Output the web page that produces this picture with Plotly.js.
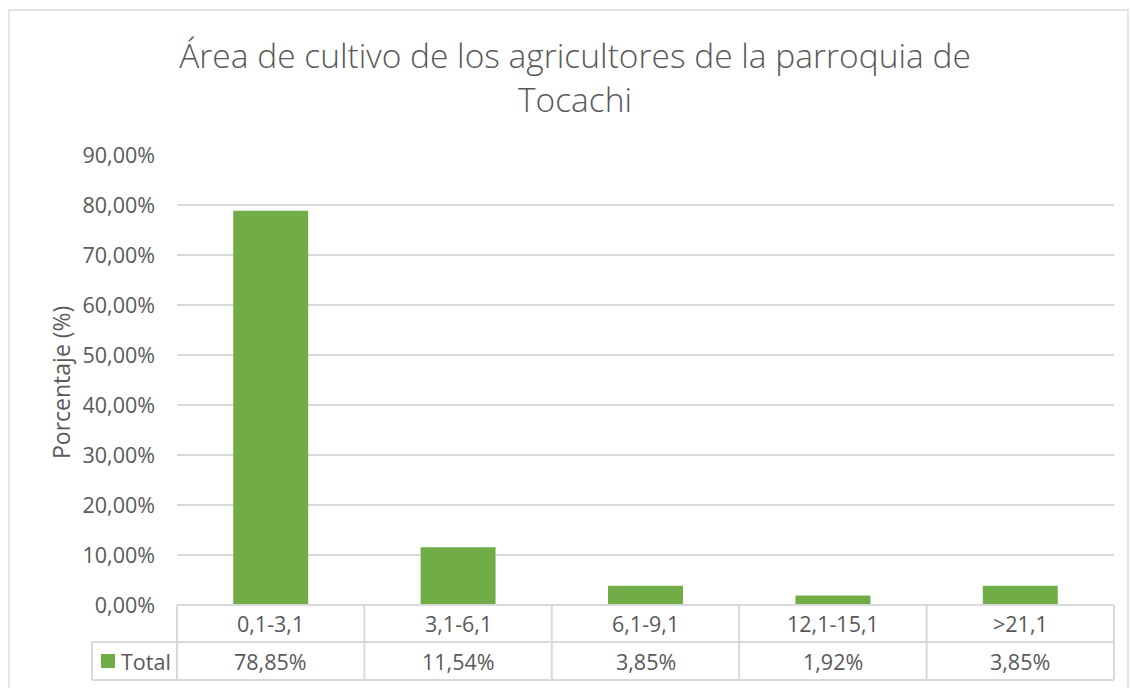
<!DOCTYPE html>
<html>
<head>
<meta charset="utf-8">
<script src="https://cdn.plot.ly/plotly-3.0.1.min.js"></script>
<style>html,body{margin:0;padding:0;background:#fff;}#chart{width:1130px;height:688px;}</style>
</head>
<body>
<div id="chart"></div>
<script>
const categories = ["0,1-3,1", "3,1-6,1", "6,1-9,1", "12,1-15,1", ">21,1"];
const totalValues = [0.7885, 0.1154, 0.0385, 0.0192, 0.0385];
const seriesName = "Total";
const titleText = "Área de cultivo de los agricultores de la parroquia de<br>Tocachi";
const yTitle = "Porcentaje (%)";

const W = 1130, H = 688;
const L = 177, R = 1114, T = 155, B = 605;
const pw = R - L, ph = B - T;
const px = v => (v - L) / pw;
const py = v => (B - v) / ph;
const gray = "#595959", line = "#d9d9d9";
const font = "Open Sans, sans-serif";

const row1Bot = py(642), row2Bot = py(680);
const n = categories.length;

const shapes = [];
// outer chart border
shapes.push({type:"rect", xref:"paper", yref:"paper", x0:px(9), x1:px(1128), y0:py(700), y1:py(10), line:{color:line, width:1.3}});
// table horizontal lines
shapes.push({type:"line", xref:"paper", yref:"paper", x0:0, x1:1, y0:0, y1:0, line:{color:line, width:2}});
shapes.push({type:"line", xref:"paper", yref:"paper", x0:px(92), x1:1, y0:row1Bot, y1:row1Bot, line:{color:line, width:2}});
shapes.push({type:"line", xref:"paper", yref:"paper", x0:px(92), x1:1, y0:row2Bot, y1:row2Bot, line:{color:line, width:2}});
// vertical lines
for (let i = 0; i <= n; i++) {
  const x = i / n;
  shapes.push({type:"line", xref:"paper", yref:"paper", x0:x, x1:x, y0:row2Bot, y1:0, line:{color:line, width:2}});
}
shapes.push({type:"line", xref:"paper", yref:"paper", x0:px(92), x1:px(92), y0:row2Bot, y1:row1Bot, line:{color:line, width:2}});
// legend key
shapes.push({type:"rect", xref:"paper", yref:"paper", x0:px(101), x1:px(115), y0:py(668), y1:py(654), fillcolor:"#70ad47", line:{width:0}});

const tfont = {family:font, size:21.5, color:gray};
const annotations = [];
categories.forEach((c, i) => {
  annotations.push({xref:"x", yref:"paper", x:c, y:row1Bot/2, text:c, showarrow:false, font:tfont, yanchor:"middle"});
  annotations.push({xref:"x", yref:"paper", x:c, y:(row1Bot + row2Bot)/2, text:(totalValues[i]*100).toFixed(2).replace(".", ",") + "%", showarrow:false, font:tfont, yanchor:"middle"});
});
annotations.push({xref:"paper", yref:"paper", x:px(119), y:(row1Bot + row2Bot)/2, text:seriesName, xanchor:"left", showarrow:false, font:tfont, yanchor:"middle"});
annotations.push({xref:"paper", yref:"paper", x:px(61), y:py(383), text:yTitle, textangle:-90, showarrow:false, font:{family:font, size:23, color:gray}, xanchor:"center", yanchor:"middle"});

const data = [{
  type:"bar", x:categories, y:totalValues, name:seriesName,
  marker:{color:"#70ad47"}, hoverinfo:"skip"
}];

const layout = {
  width:W, height:H,
  margin:{l:L, r:W-R, t:T, b:H-B, pad:0},
  paper_bgcolor:"#fff", plot_bgcolor:"#fff",
  separators:",.",
  showlegend:false,
  bargap:0.6,
  title:{text:titleText, x:px(575), xref:"paper", xanchor:"center", y:1-68/H, yref:"container", yanchor:"middle", font:{family:font, size:33.5, color:gray, weight:300}},
  xaxis:{type:"category", showticklabels:false, showgrid:false, zeroline:false, showline:false, ticks:"", range:[-0.5, n-0.5]},
  yaxis:{range:[0, 0.9], dtick:0.1, tickformat:".2%", showgrid:true, gridcolor:line, gridwidth:1.5, zeroline:false, showline:false, ticks:"", ticklen:0, tickfont:{family:font, size:21.5, color:gray}, automargin:false, ticklabelstandoff:21},
  shapes:shapes,
  annotations:annotations
};

Plotly.newPlot("chart", data, layout, {displayModeBar:false, staticPlot:true});
</script>
</body>
</html>
